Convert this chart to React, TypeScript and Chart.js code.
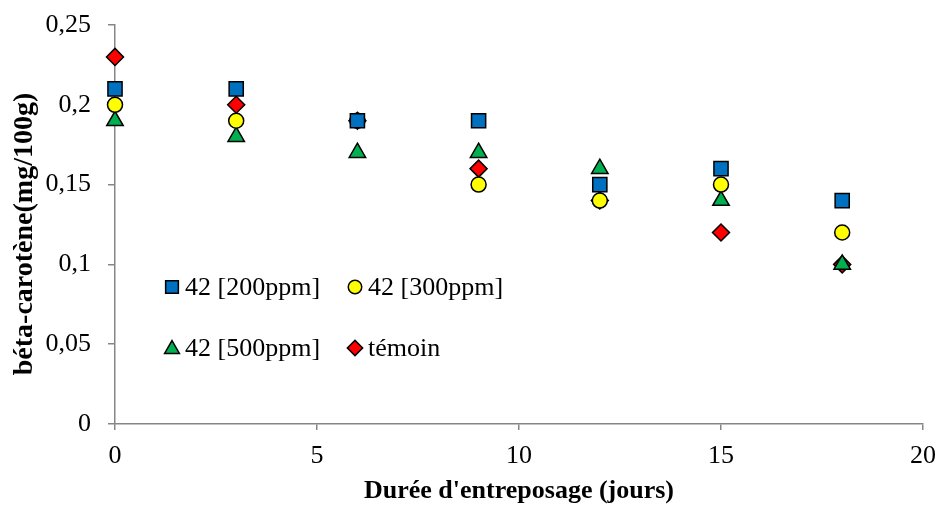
import React, { useEffect, useRef } from "react";
import { Chart, registerables } from "chart.js";

Chart.register(...registerables);

const days = [0, 3, 6, 9, 12, 15, 18];
const s200 = [0.21, 0.21, 0.19, 0.19, 0.15, 0.16, 0.14];
const s300 = [0.2, 0.19, 0.19, 0.15, 0.14, 0.15, 0.12];
const s500 = [0.19, 0.18, 0.17, 0.17, 0.16, 0.14, 0.1];
const temoin = [0.23, 0.2, 0.19, 0.16, 0.14, 0.12, 0.1];
const seriesNames = ["42 [200ppm]", "42 [300ppm]", "42 [500ppm]", "témoin"];
const xTitle = "Durée d'entreposage (jours)";
const yTitle = "béta-carotène(mg/100g)";

const FONT = "'Liberation Serif', 'Times New Roman', serif";
const AXIS = "#868686";

const colors = ["#0070C0", "#FFFF00", "#00B050", "#FF0000"];
const shapes = ["rect", "circle", "triangle", "rectRot"];
const radii = [10, 7.5, 9.5, 8.5];

function drawShape(ctx: CanvasRenderingContext2D, shape: string, x: number, y: number, r: number, fill: string) {
  ctx.save();
  ctx.beginPath();
  if (shape === "rect") {
    const s = r * Math.SQRT1_2;
    ctx.rect(x - s, y - s, 2 * s, 2 * s);
  } else if (shape === "circle") {
    ctx.arc(x, y, r, 0, Math.PI * 2);
  } else if (shape === "triangle") {
    const h = r * 1.5;
    const w = r * Math.sqrt(3) / 2;
    ctx.moveTo(x, y - h / 2 - 1);
    ctx.lineTo(x + w, y + h / 2 - 1);
    ctx.lineTo(x - w, y + h / 2 - 1);
    ctx.closePath();
  } else {
    ctx.moveTo(x - r, y);
    ctx.lineTo(x, y - r);
    ctx.lineTo(x + r, y);
    ctx.lineTo(x, y + r);
    ctx.closePath();
  }
  ctx.fillStyle = fill;
  ctx.fill();
  ctx.lineWidth = 1.5;
  ctx.strokeStyle = "#000";
  ctx.stroke();
  ctx.restore();
}

const legendPlugin = {
  id: "insideLegend",
  afterDraw(chart: any) {
    const ctx = chart.ctx as CanvasRenderingContext2D;
    const pos = [
      [172, 287],
      [355, 287],
      [172, 348],
      [355, 348],
    ];
    ctx.save();
    ctx.font = `26px ${FONT}`;
    ctx.textBaseline = "middle";
    ctx.textAlign = "left";
    seriesNames.forEach((name, i) => {
      const [x, y] = pos[i];
      drawShape(ctx, shapes[i], x, y, radii[i] * 0.9, colors[i]);
      ctx.fillStyle = "#000";
      ctx.fillText(name, x + 13, y + 1);
    });
    // y axis title
    ctx.save();
    ctx.translate(25, 234);
    ctx.rotate(-Math.PI / 2);
    ctx.font = `bold 28px ${FONT}`;
    ctx.textAlign = "center";
    ctx.textBaseline = "middle";
    ctx.fillStyle = "#000";
    ctx.fillText(yTitle, 0, 0);
    ctx.restore();
    ctx.restore();
  },
};

export default function App() {
  const ref = useRef<HTMLCanvasElement>(null);
  useEffect(() => {
    document.body.style.margin = "0";
    const all = [s200, s300, s500, temoin];
    const chart = new Chart(ref.current!, {
      type: "scatter",
      data: {
        datasets: all.map((vals, i) => ({
          label: seriesNames[i],
          data: days.map((d, j) => ({ x: d, y: vals[j] })),
          pointStyle: shapes[i] as any,
          pointRadius: radii[i],
          pointBackgroundColor: colors[i],
          pointBorderColor: "#000",
          pointBorderWidth: 1.5,
          showLine: false,
          clip: false as any,
        })),
      },
      options: {
        animation: false,
        responsive: false,
        layout: { padding: { left: 0, right: 17, top: 25, bottom: 0 } },
        plugins: { legend: { display: false }, tooltip: { enabled: false } },
        scales: {
          x: {
            type: "linear",
            min: 0,
            max: 20,
            ticks: { stepSize: 5, color: "#000", font: { family: FONT, size: 26 }, padding: 11, maxRotation: 0 },
            grid: { drawOnChartArea: false, drawTicks: true, tickLength: 6, color: AXIS, lineWidth: 1.5 },
            border: { color: AXIS, width: 1.5 },
            title: {
              display: true,
              text: xTitle,
              color: "#000",
              font: { family: FONT, size: 26, weight: "bold" },
              padding: { top: 0, bottom: 1 },
            },
            afterFit: (s: any) => {
              s.height = 84;
              s.paddingLeft = 0;
              s.paddingRight = 0;
            },
          },
          y: {
            min: 0,
            max: 0.25,
            ticks: {
              stepSize: 0.05,
              color: "#000",
              font: { family: FONT, size: 26 },
              padding: 17,
              callback: (v: any) => String(Number(Number(v).toFixed(2))).replace(".", ","),
            },
            grid: { drawOnChartArea: false, drawTicks: true, tickLength: 7, color: AXIS, lineWidth: 1.5 },
            border: { color: AXIS, width: 1.5 },
            afterFit: (s: any) => {
              s.width = 115;
              s.paddingTop = 0;
              s.paddingBottom = 0;
            },
          },
        },
      },
      plugins: [legendPlugin],
    });
    return () => chart.destroy();
  }, []);
  return (
    <div style={{ width: 940, height: 508 }}>
      <canvas ref={ref} width={940} height={508} style={{ display: "block" }} />
    </div>
  );
}
